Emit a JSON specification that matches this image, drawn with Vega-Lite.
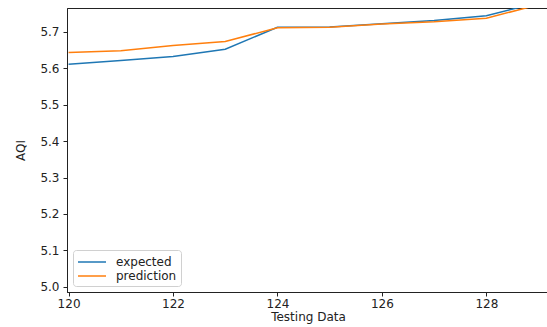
{
  "$schema": "https://vega.github.io/schema/vega-lite/v6.json",
  "autosize": "none",
  "width": 482,
  "height": 284,
  "padding": {"left": 67, "top": 8, "right": 0, "bottom": 35},
  "background": "white",
  "config": {
    "view": {"stroke": "#222", "strokeWidth": 1},
    "font": "DejaVu Sans",
    "axis": {"labelFont": "DejaVu Sans", "titleFont": "DejaVu Sans", "labelFontSize": 12, "titleFontSize": 12, "titleFontWeight": "normal", "labelColor": "#222", "titleColor": "#222", "domainColor": "#222", "tickColor": "#222", "grid": false, "tickSize": 4}
  },
  "data": {
    "values": [
      {"x": 120, "series": "expected", "aqi": 5.611},
      {"x": 121, "series": "expected", "aqi": 5.621},
      {"x": 122, "series": "expected", "aqi": 5.632},
      {"x": 123, "series": "expected", "aqi": 5.652},
      {"x": 124, "series": "expected", "aqi": 5.712},
      {"x": 125, "series": "expected", "aqi": 5.713},
      {"x": 126, "series": "expected", "aqi": 5.722},
      {"x": 127, "series": "expected", "aqi": 5.731},
      {"x": 128, "series": "expected", "aqi": 5.744},
      {"x": 129, "series": "expected", "aqi": 5.78},
      {"x": 120, "series": "prediction", "aqi": 5.643},
      {"x": 121, "series": "prediction", "aqi": 5.648},
      {"x": 122, "series": "prediction", "aqi": 5.662},
      {"x": 123, "series": "prediction", "aqi": 5.673},
      {"x": 124, "series": "prediction", "aqi": 5.711},
      {"x": 125, "series": "prediction", "aqi": 5.712},
      {"x": 126, "series": "prediction", "aqi": 5.721},
      {"x": 127, "series": "prediction", "aqi": 5.727},
      {"x": 128, "series": "prediction", "aqi": 5.737},
      {"x": 129, "series": "prediction", "aqi": 5.774}
    ]
  },
  "mark": {"type": "line", "strokeWidth": 1.5, "clip": true},
  "encoding": {
    "x": {
      "field": "x", "type": "quantitative",
      "scale": {"domain": [119.97, 129.2], "nice": false, "zero": false},
      "axis": {"title": "Testing Data", "values": [120, 122, 124, 126, 128], "labelPadding": 2, "titlePadding": 2}
    },
    "y": {
      "field": "aqi", "type": "quantitative",
      "scale": {"domain": [4.986, 5.765], "nice": false, "zero": false},
      "axis": {"title": "AQI", "values": [5.0, 5.1, 5.2, 5.3, 5.4, 5.5, 5.6, 5.7], "format": ".1f", "labelPadding": 4, "titlePadding": 12}
    },
    "color": {
      "field": "series", "type": "nominal",
      "scale": {"domain": ["expected", "prediction"], "range": ["#1f77b4", "#ff7f0e"]},
      "legend": {
        "title": null, "orient": "none", "legendX": 6, "legendY": 242,
        "symbolType": "M-1,0H3", "symbolSize": 196, "symbolStrokeWidth": 1.5,
        "labelFontSize": 12, "labelFont": "DejaVu Sans", "labelColor": "#222", "labelOffset": 23,
        "fillColor": "white", "strokeColor": "#d0d0d0", "cornerRadius": 3, "padding": 4, "rowPadding": 0
      }
    }
  }
}
